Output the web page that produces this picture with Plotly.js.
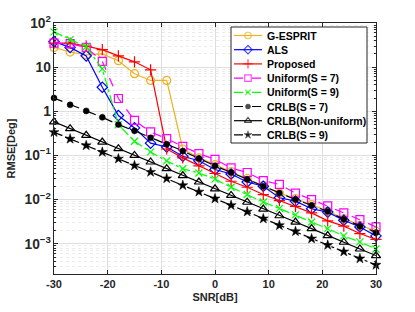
<!DOCTYPE html>
<html>
<head>
<meta charset="utf-8">
<script src="https://cdn.plot.ly/plotly-3.0.1.min.js"></script>
<style>
  html, body { margin: 0; padding: 0; background: #ffffff; }
  #chart { width: 415px; height: 312px; }
</style>
</head>
<body>
<div id="chart"></div>
<script>
// SNR in dB
const snr = [-30, -27, -24, -21, -18, -15, -12, -9, -6, -3, 0, 3, 6, 9, 12, 15, 18, 21, 24, 27, 30];

// RMSE [Deg]
const gEsprit   = [28, 22, 19, 20, 14, 7.1, 5.0, 5.0, 0.14, 0.088, 0.062, 0.043, 0.030, 0.021, 0.014, 0.0105, 0.0077, 0.0055, 0.0037, 0.0026, 0.0019];
const als       = [38, 28, 18, 3.5, 0.8, 0.42, 0.19, 0.155, 0.096, 0.076, 0.048, 0.038, 0.025, 0.020, 0.011, 0.0092, 0.0062, 0.0052, 0.0034, 0.0024, 0.0015];
const proposed  = [35, 35, 30, 25, 18, 13.2, 8.7, 0.14, 0.088, 0.058, 0.039, 0.026, 0.019, 0.013, 0.0095, 0.0070, 0.0050, 0.0033, 0.0025, 0.0017, 0.00125];
const uniform7  = [35, 34, 28, 13.5, 1.95, 0.62, 0.34, 0.24, 0.16, 0.11, 0.081, 0.052, 0.041, 0.027, 0.022, 0.014, 0.010, 0.0072, 0.0050, 0.0035, 0.0024];
const uniform9  = [63, 42, 29, 9.1, 0.5, 0.21, 0.12, 0.075, 0.050, 0.040, 0.029, 0.019, 0.013, 0.0088, 0.0063, 0.0045, 0.0031, 0.0022, 0.0015, 0.0011, 0.00076];
const crlb7     = [2.0, 1.4, 1.02, 0.73, 0.50, 0.36, 0.25, 0.18, 0.126, 0.085, 0.058, 0.041, 0.029, 0.020, 0.014, 0.010, 0.0074, 0.0054, 0.0036, 0.0025, 0.0018];
const crlbNonU  = [0.575, 0.405, 0.286, 0.201, 0.142, 0.100, 0.071, 0.050, 0.035, 0.025, 0.0175, 0.0124, 0.0087, 0.0061, 0.0043, 0.0031, 0.0022, 0.00153, 0.00108, 0.00076, 0.00054];
const crlb9     = [0.335, 0.237, 0.168, 0.119, 0.084, 0.059, 0.042, 0.030, 0.021, 0.015, 0.0105, 0.0074, 0.0053, 0.0037, 0.0026, 0.0019, 0.0013, 0.00093, 0.00066, 0.00046, 0.00033];

const names = ['G-ESPRIT', 'ALS', 'Proposed', 'Uniform(S = 7)', 'Uniform(S = 9)', 'CRLB(S = 7)', 'CRLB(Non-uniform)', 'CRLB(S = 9)'];
const series = [gEsprit, als, proposed, uniform7, uniform9, crlb7, crlbNonU, crlb9];
const xTicks = [-30, -20, -10, 0, 10, 20, 30];

const styles = [
  { color: '#EDB120', dash: 'solid',   symbol: 'circle-open',      size: 8, fill: false },
  { color: '#0000FF', dash: 'solid',   symbol: 'diamond-open',     size: 8, fill: false },
  { color: '#FF0000', dash: 'solid',   symbol: 'cross-thin-open',  size: 8, fill: false },
  { color: '#FF00FF', dash: 'dash',    symbol: 'square-open',      size: 8, fill: false },
  { color: '#00FF00', dash: 'dashdot', symbol: 'x-thin-open',      size: 7, fill: false },
  { color: '#000000', dash: 'dash',    symbol: 'circle',           size: 6, fill: true },
  { color: '#000000', dash: 'solid',   symbol: 'triangle-up-open', size: 8, fill: false },
  { color: '#000000', dash: 'dashdot', symbol: 'star',             size: 7.5, fill: true }
];

function markerOf(s, size) {
  return {
    symbol: s.symbol, size: size, color: s.color,
    line: { color: s.color, width: s.fill ? 0.5 : 1.2 }
  };
}

const data = [];
series.forEach((y, i) => {
  const s = styles[i];
  data.push({
    x: snr, y: y, name: names[i], type: 'scatter', mode: 'lines+markers',
    showlegend: false, cliponaxis: false,
    line: { color: s.color, width: 1.2, dash: s.dash },
    marker: markerOf(s, s.size)
  });
});

// ---- hand-made legend on an overlay axis measured in pixels ----
const plotL = 54, plotR = 376, plotT = 23, plotB = 274;
const box = { l: 231, r: 367, t: 27, b: 143 };
const row0 = 35.5, rowH = 14.2;
const lineX0 = 234, lineX1 = 262, textX = 265;

data.push({
  x: [box.l, box.r, box.r, box.l, box.l], y: [box.t, box.t, box.b, box.b, box.t],
  xaxis: 'x2', yaxis: 'y2', type: 'scatter', mode: 'lines', fill: 'toself',
  fillcolor: '#ffffff', line: { color: '#262626', width: 1 }, showlegend: false, hoverinfo: 'skip'
});

const annotations = [];
names.forEach((n, i) => {
  const s = styles[i];
  const yy = row0 + i * rowH;
  const ms = Math.max(5, s.size - 1.5);
  data.push({
    x: [lineX0, (lineX0 + lineX1) / 2, lineX1], y: [yy, yy, yy],
    xaxis: 'x2', yaxis: 'y2', type: 'scatter', mode: 'lines+markers', showlegend: false,
    line: { color: s.color, width: 1.2, dash: s.dash },
    marker: Object.assign(markerOf(s, ms), { size: [0, ms, 0] }),
    hoverinfo: 'skip'
  });
  annotations.push({
    xref: 'x2', yref: 'y2', x: textX, y: yy, xanchor: 'left', yanchor: 'middle',
    text: n, showarrow: false,
    font: { family: 'Liberation Sans, Arial, Helvetica, sans-serif', size: 10.5, color: '#000000', weight: 'bold' }
  });
});

const fontFam = 'Liberation Sans, Arial, Helvetica, sans-serif';

const layout = {
  width: 415, height: 312,
  margin: { l: plotL, r: 415 - plotR, t: plotT, b: 312 - plotB },
  paper_bgcolor: '#ffffff', plot_bgcolor: '#ffffff',
  font: { family: fontFam, size: 11, color: '#262626', weight: 'bold' },
  showlegend: false,
  annotations: annotations,
  xaxis: {
    range: [-30, 30], tickvals: xTicks, ticktext: xTicks.map(String),
    showgrid: true, gridcolor: '#dedede', gridwidth: 1,
    zeroline: false, showline: true, mirror: 'ticks', linecolor: '#262626', linewidth: 1,
    ticks: 'inside', ticklen: 4, tickcolor: '#262626',
    tickfont: { family: fontFam, size: 11, color: '#262626', weight: 'bold' },
    title: { text: 'SNR[dB]', standoff: 4, font: { family: fontFam, size: 11, color: '#262626', weight: 'bold' } },
    automargin: false
  },
  yaxis: {
    type: 'log', range: [-3.686, 2], dtick: 1, exponentformat: 'power',
    showgrid: true, gridcolor: '#dedede', gridwidth: 1,
    zeroline: false, showline: true, mirror: 'ticks', linecolor: '#262626', linewidth: 1,
    ticks: 'inside', ticklen: 4, tickcolor: '#262626',
    tickfont: { family: fontFam, size: 11, color: '#262626', weight: 'bold' },
    minor: { dtick: 'D1', showgrid: true, gridcolor: '#ebebeb', griddash: 'dot', ticks: 'inside', ticklen: 2, tickcolor: '#262626' },
    title: { text: 'RMSE[Deg]', standoff: 6, font: { family: fontFam, size: 11, color: '#262626', weight: 'bold' } },
    automargin: false
  },
  xaxis2: {
    overlaying: 'x', anchor: 'y2', range: [plotL, plotR], visible: false,
    showgrid: false, zeroline: false, fixedrange: true
  },
  yaxis2: {
    overlaying: 'y', anchor: 'x2', range: [plotB, plotT], visible: false,
    showgrid: false, zeroline: false, fixedrange: true
  }
};

Plotly.newPlot('chart', data, layout, { displayModeBar: false, staticPlot: true });
</script>
</body>
</html>
